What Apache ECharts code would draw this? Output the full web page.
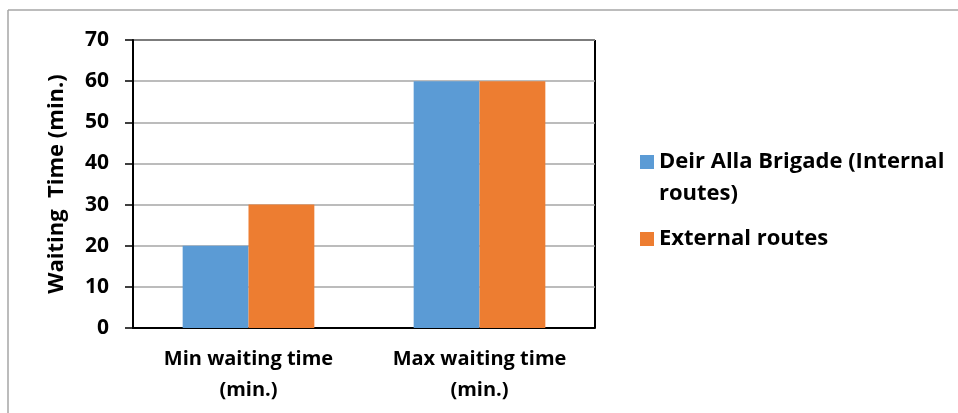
<!DOCTYPE html>
<html>
<head>
<meta charset="utf-8">
<script src="https://cdn.jsdelivr.net/npm/echarts@6/dist/echarts.min.js"></script>
<style>
  html, body { margin: 0; padding: 0; background: #fff; }
  #chart { width: 958px; height: 413px; }
</style>
</head>
<body>
<div id="chart"></div>
<script>
// data
var categories = ['Min waiting time\n(min.)', 'Max waiting time\n(min.)'];
var internalRoutes = [20, 60];
var externalRoutes = [30, 60];
var seriesNames = ['Deir Alla Brigade (Internal routes)', 'External routes'];

var font = '"Open Sans", "Liberation Sans", sans-serif';
var chart = echarts.init(document.getElementById('chart'));

var option = {
    animation: false,
    backgroundColor: '#fff',
    textStyle: { fontFamily: font },
    grid: { left: 133, right: 363, top: 40, bottom: 85, containLabel: false },
    legend: {
        orient: 'vertical',
        left: 640,
        top: 114,
        padding: 0,
        itemWidth: 14,
        itemHeight: 14,
        itemGap: 13,
        icon: 'rect',
        data: seriesNames,
        // a blank first line keeps the icon level with the first text line
        formatter: function (name) {
            return name === seriesNames[0] ? ' \nDeir Alla Brigade (Internal\nroutes)' : name;
        },
        textStyle: {
            fontFamily: font, fontSize: 22, fontWeight: 'bold', color: '#000',
            lineHeight: 32
        }
    },
    xAxis: {
        type: 'category',
        data: categories,
        axisLine: { lineStyle: { color: '#000', width: 2 } },
        axisTick: { show: false },
        axisLabel: {
            margin: 16, color: '#000', fontFamily: font,
            fontSize: 20, fontWeight: 'bold', lineHeight: 31
        }
    },
    yAxis: {
        type: 'value',
        min: 0, max: 70, interval: 10,
        name: 'Waiting  Time (min.)',
        nameLocation: 'middle',
        nameGap: 65,
        nameTextStyle: { fontFamily: font, fontSize: 22, fontWeight: 'bold', color: '#000' },
        axisLine: { show: true, lineStyle: { color: '#000', width: 2 } },
        axisTick: { show: true, length: 8, lineStyle: { color: '#000', width: 1.5 } },
        axisLabel: { margin: 24, color: '#000', fontFamily: font, fontSize: 21, fontWeight: 'bold' },
        splitLine: { lineStyle: { color: '#a6a6a6', width: 1.5 } }
    },
    series: [
        {
            name: seriesNames[0], type: 'bar', data: internalRoutes,
            barGap: '0%', barCategoryGap: '43%',
            itemStyle: { color: '#5b9bd5' }
        },
        {
            name: seriesNames[1], type: 'bar', data: externalRoutes,
            barGap: '0%', barCategoryGap: '43%',
            itemStyle: { color: '#ed7d31' }
        }
    ],
    graphic: [
        // frame of the plot area (top and right edges) and the outer chart border
        { type: 'line', shape: { x1: 133, y1: 40, x2: 595, y2: 40 }, style: { stroke: '#000', lineWidth: 2 } },
        { type: 'line', shape: { x1: 595, y1: 40, x2: 595, y2: 328 }, style: { stroke: '#000', lineWidth: 2 } },
        { type: 'line', shape: { x1: 8, y1: 10, x2: 958, y2: 10 }, style: { stroke: '#a6a6a6', lineWidth: 1.5 } },
        { type: 'line', shape: { x1: 8, y1: 10, x2: 8, y2: 413 }, style: { stroke: '#a6a6a6', lineWidth: 1.5 } }
    ]
};

chart.setOption(option);
</script>
</body>
</html>
